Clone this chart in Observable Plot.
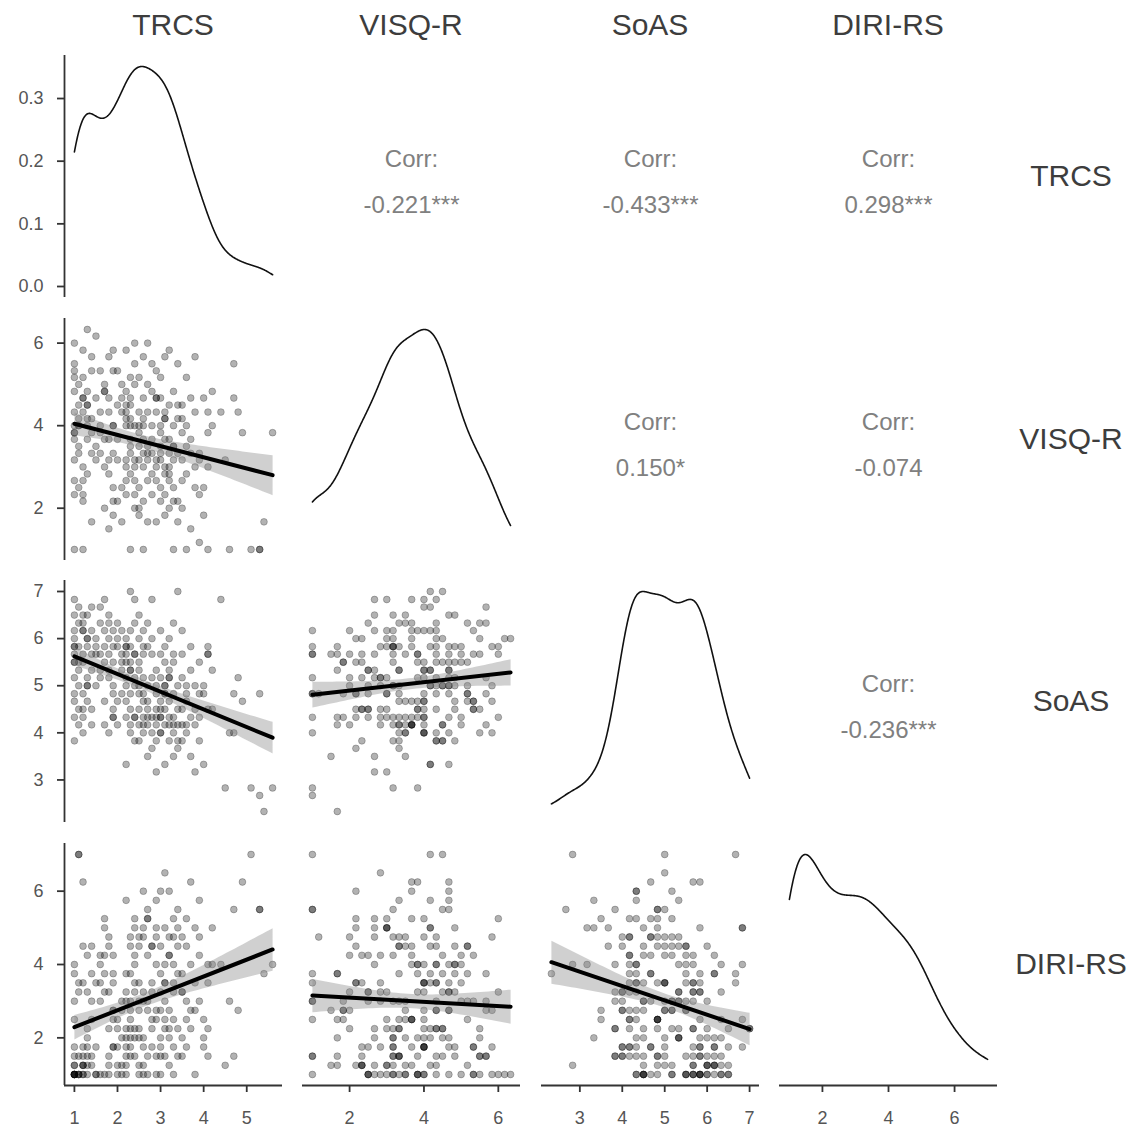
<!DOCTYPE html>
<html>
<head>
<meta charset="utf-8">
<script src="https://cdn.jsdelivr.net/npm/d3@7"></script>
<script src="https://cdn.jsdelivr.net/npm/@observablehq/plot@0.6"></script>
<style>
  body { margin: 0; background: #fff; }
  #chart { position: relative; width: 1134px; height: 1129px; font-family: "Liberation Sans", Arial, Helvetica, sans-serif; }
  #chart svg { position: absolute; }
  .strip { position: absolute; font-size: 30px; line-height: 34px; color: #3d3d3d; text-align: center; white-space: nowrap; }
</style>
</head>
<body>
<div id="chart"></div>
<script>
// Scale names, in matrix order
const names = ["TRCS", "VISQ-R", "SoAS", "DIRI-RS"];

// Respondent scores (one entry per respondent, same order in every array)
const trcs = [
  1.0,1.0,1.0,1.0,1.0,1.0,1.0,1.0,1.0,1.0,1.0,1.0, 1.1,1.1,1.1,1.1,1.1,1.1,
  1.2,1.2,1.2,1.2,1.2,1.2,1.2, 1.3,1.3,1.3,1.3,1.3,1.3, 1.4,1.4,1.4,1.4,1.4,1.4,
  1.1,1.2,1.0,1.5,1.5,1.5,1.5, 1.2,1.6,1.6,1.6,1.2,1.6,1.6, 1.3,1.7,1.7,1.7,1.3,1.7,1.7,1.7,
  1.8,1.8,1.8,1.8,1.8,1.8,1.8, 1.9,1.9,1.9,1.9,1.9,1.9,1.9,1.9,
  1.0,2.0,2.0,3.1,2.0,2.0,2.0,3.2, 1.1,2.1,3.0,2.1,2.1,3.3,2.1,2.1,
  2.2,2.2,2.2,2.2,2.2,2.2,2.2,2.2,2.2, 2.3,2.3,2.3,2.3,2.3,2.3,2.3,2.3,2.3, 2.4,2.4,2.4,2.4,2.4,2.4,2.4,2.4,2.4,
  2.5,2.5,2.5,2.5,2.5,2.5,2.5,2.5,2.5, 2.6,2.6,2.6,2.6,2.6,2.6,2.6,2.6,2.6, 2.2,2.7,2.7,2.7,2.7,2.7,2.7,2.7,2.7,
  2.3,2.8,2.8,2.8,2.8,2.8,2.8,2.8, 2.9,2.9,2.9,2.9,2.9,2.9,2.9,2.9,
  3.0,3.0,3.0,3.0,3.0,3.0,3.0,3.0, 3.1,3.1,3.1,3.1,3.1,3.1,3.1,3.1, 3.2,3.2,3.2,3.2,3.2,3.2,3.2,
  3.3,3.3,3.3,3.3,3.3,3.3,3.3, 3.4,3.4,3.4,3.4,3.4,3.4,
  3.5,3.5,3.5,3.5,3.5,3.5, 3.6,3.6,3.6,3.6,3.6, 3.7,3.7,3.7,3.7, 3.8,3.8,3.8,3.8, 3.9,3.9,3.9,3.9,
  4.0,4.0,4.0,4.1,4.1,4.1,4.1,4.2,4.2,4.4,4.5,4.6,4.7,4.7,4.8,4.9,5.1,5.3,5.3,5.4,5.6
];
const visq = [
  4.33,3.67,5.33,2.67,4.83,3.17,6.0,1.0,4.0,3.83,5.5,2.33, 4.5,3.5,5.0,3.33,4.17,2.5,
  4.67,4.67,5.83,3.0,4.33,2.17,5.17, 4.0,6.33,3.67,4.83,2.83,4.5, 3.83,5.33,1.67,4.17,5.67,3.33,
  4.0,2.67,5.17,3.5,4.67,3.17,6.17, 1.0,4.33,3.83,5.33,2.33,4.0,3.33, 4.5,3.67,5.0,2.0,4.17,3.0,4.83,4.83,
  5.67,2.83,4.33,3.67,1.5,4.67,3.17, 4.0,5.33,2.17,4.0,5.83,1.83,3.33,2.5,
  3.83,4.5,2.17,4.17,3.17,5.33,3.67,2.83, 4.0,5.0,3.33,1.67,4.33,3.5,4.67,2.5,
  3.17,4.83,3.0,5.83,4.17,2.67,4.0,4.33,2.33, 4.5,3.67,5.17,3.33,4.0,1.0,3.5,4.67,2.83, 3.17,5.5,2.0,4.0,3.0,5.0,2.67,6.0,2.33,
  3.83,2.5,4.33,3.17,5.17,1.83,4.0,3.5,2.0, 4.67,1.0,3.33,4.17,3.67,5.67,2.17,4.0,3.0, 4.5,2.67,3.33,4.33,3.17,5.0,1.67,3.5,6.0,
  4.17,2.83,3.67,4.83,3.33,2.33,4.0,5.5, 3.0,4.33,2.67,4.67,5.33,1.67,3.17,4.67,
  3.5,4.67,2.5,3.83,2.17,4.0,3.17,5.17, 2.83,4.33,1.83,3.67,5.67,3.0,4.17,2.33, 3.0,4.5,2.67,3.33,5.83,2.0,3.67,
  1.0,4.0,2.17,3.5,4.83,3.17,2.5, 4.17,4.5,5.5,1.67,3.33,2.17,
  3.83,2.67,4.5,3.17,2.0,4.17, 1.0,3.5,5.17,2.83,4.0, 3.33,4.67,1.5,3.67, 2.5,4.33,3.0,5.67, 1.17,3.17,2.33,3.33,
  4.67,2.5,1.83,3.83,4.33,3.0,1.0,4.83,4.0,4.33,3.17,1.0,4.67,5.5,4.33,3.83,1.0,1.0,1.0,1.67,3.83
];
const soas = [
  5.83,6.17,4.67,6.5,3.83,5.5,5.83,5.17,6.83,4.33,5.67,6.0, 5.0,6.33,5.83,4.17,6.67,5.33,
  5.67,6.5,4.0,6.17,5.5,4.83,6.33, 5.17,6.0,4.67,6.5,5.83,5.0, 6.17,4.5,5.67,5.33,6.67,4.17,
  5.5,6.17,4.83,5.67,5.0,5.83,6.0, 4.33,6.33,5.17,5.67,4.5,6.67,5.33, 6.0,4.17,5.5,6.17,5.0,6.83,5.83,4.67,
  6.33,5.17,4.0,6.0,5.67,5.33,6.5, 4.83,6.17,5.5,4.33,5.0,4.33,5.83,4.5,
  5.5,4.17,6.0,5.0,5.83,4.67,6.33,5.17, 4.5,5.67,4.0,5.33,6.17,4.17,5.5,4.83,
  5.83,5.0,4.33,5.83,3.33,5.67,4.67,6.0,5.17, 7.0,4.17,5.5,4.83,5.33,6.17,4.0,5.83,4.5, 5.0,6.33,5.67,4.33,5.17,4.33,6.83,5.67,3.83,
  4.5,5.33,3.83,6.0,4.83,5.5,4.17,6.5,5.0, 4.0,5.67,4.67,5.83,4.17,5.17,4.33,6.17,4.83, 5.5,3.5,6.33,4.5,5.0,4.17,5.83,4.67,4.33,
  5.33,4.33,6.83,5.17,3.67,5.67,4.0,6.0, 4.83,3.83,3.17,5.0,4.5,4.33,4.17,5.33,
  4.33,5.17,4.33,5.67,4.5,4.0,6.17,4.67, 5.0,4.83,5.5,4.17,4.83,5.83,3.33,4.5, 6.0,4.17,5.33,3.83,4.67,5.17,4.33,
  5.67,4.0,4.83,3.5,5.5,4.33,6.33, 7.0,3.83,4.5,4.17,5.0,3.67,
  4.5,5.17,3.83,5.67,4.17,6.17, 4.83,4.0,5.0,4.17,4.67, 5.33,4.33,3.5,5.83, 4.5,5.0,3.17,4.17, 4.83,3.83,5.5,4.33,
  3.33,5.0,4.83,5.67,5.67,4.5,5.83,4.5,5.33,6.83,2.83,4.0,4.83,4.0,5.17,4.67,2.83,4.83,2.67,2.33,2.83
];
const diri = [
  1.0,1.25,1.0,1.0,4.0,1.5,1.0,3.0,1.75,3.75,1.0,1.25, 7.0,1.0,3.5,1.5,7.0,3.25,
  6.25,1.0,1.75,1.0,4.5,3.5,1.25, 2.25,1.0,4.25,1.75,3.25,2.0, 1.5,3.0,1.25,4.5,3.75,2.5,
  1.0,1.25,2.5,1.0,3.5,1.75,1.0, 1.5,4.0,1.0,4.25,1.25,3.5,3.0, 1.5,5.25,1.0,4.25,1.25,5.0,3.25,3.75,
  1.5,1.0,4.75,4.5,1.25,3.25,2.25, 2.5,1.75,3.5,1.75,2.75,2.75,3.75,4.25,
  1.0,2.25,1.25,3.5,1.0,1.75,2.5,4.25, 1.0,3.0,1.5,2.0,1.25,4.75,2.75,1.0,
  2.0,1.5,3.25,1.0,5.75,2.25,1.75,3.0,1.25, 2.25,2.5,4.5,1.5,4.75,3.75,2.75,1.75,3.0, 4.25,2.0,2.25,3.5,5.25,4.0,5.0,3.25,1.5,
  1.0,3.0,2.25,2.0,4.5,2.75,3.5,1.25,4.75, 3.25,1.0,4.75,5.0,1.75,3.0,6.0,2.0,1.25, 3.75,5.25,1.0,2.75,5.5,4.25,1.5,3.0,5.25,
  2.0,3.5,2.5,4.5,4.5,1.75,3.25,2.25, 5.0,1.5,4.0,2.75,1.0,2.5,4.75,5.75,
  2.0,6.0,1.0,3.25,4.5,2.75,1.75,3.75, 6.5,2.25,3.0,4.0,1.5,2.5,5.0,3.5, 1.25,4.25,2.0,2.25,4.75,2.75,6.0,
  3.5,1.75,5.25,2.5,4.0,1.0,3.25, 2.25,5.5,1.5,3.75,4.5,5.0,
  2.0,4.75,3.25,1.5,3.25,3.75, 2.5,4.5,3.0,1.75,5.25, 2.25,4.0,2.75,6.25, 1.0,3.5,5.0,2.75, 4.75,3.0,4.25,5.75,
  2.0,1.75,2.5,4.0,3.5,2.25,1.5,5.0,4.0,4.0,1.25,3.0,5.5,1.5,2.75,6.25,7.0,5.5,5.5,3.75,4.0
];

// Pearson correlations shown in the upper triangle (row, column, r, significance stars)
const corrRows = [0, 0, 0, 1, 1, 2];
const corrCols = [1, 2, 3, 2, 3, 3];
const corrValues = [-0.221, -0.433, 0.298, 0.150, -0.074, -0.236];
const corrStars = ["***", "***", "***", "*", "", "***"];

// Axis tick values for each scale, and for the density axis of the first panel
const axisTicks = [[1, 2, 3, 4, 5], [2, 4, 6], [3, 4, 5, 6, 7], [2, 4, 6]];
const densityTicks = [0, 0.1, 0.2, 0.3];

const vars = [trcs, visq, soas, diri];
if (new Set(vars.map(v => v.length)).size !== 1) throw new Error("score arrays differ in length: " + vars.map(v => v.length));

// Panel grid geometry
const lefts = [64, 302, 541, 779];
const tops = [55, 318, 580, 843];
const W = 218, H = 242;
const FONT = '"Liberation Sans", Arial, Helvetica, sans-serif';
const AXIS = "#333";
const TICKTEXT = "#555";

const chart = document.getElementById("chart");
const idx = d3.range(trcs.length);

// ggplot-style 5% expansion around the data range
function expand([a, b], k = 0.05) { const w = b - a; return [a - k * w, b + k * w]; }
const domains = vars.map(v => expand(d3.extent(v)));

// Gaussian kernel density with R's bw.nrd0 bandwidth, evaluated over the data range
function kde(v, n = 512) {
  const s = v.slice().sort(d3.ascending);
  const iqr = d3.quantile(s, 0.75) - d3.quantile(s, 0.25);
  const lo = Math.min(d3.deviation(s), iqr / 1.34);
  const bw = 0.9 * lo * Math.pow(s.length, -0.2);
  const [a, b] = d3.extent(s);
  const c = 1 / (s.length * bw * Math.sqrt(2 * Math.PI));
  return d3.range(n).map(i => {
    const x = a + (b - a) * i / (n - 1);
    let sum = 0;
    for (const xi of s) { const z = (x - xi) / bw; sum += Math.exp(-0.5 * z * z); }
    return {x, y: sum * c};
  });
}

function place(svg, left, top) {
  svg.style.left = left + "px";
  svg.style.top = top + "px";
  chart.append(svg);
}

const intFormat = d => String(d);

for (let r = 0; r < 4; ++r) {
  for (let c = 0; c < 4; ++c) {
    const ml = c === 0 ? 64 : 4, mr = 4, mt = 4, mb = r === 3 ? 44 : 4;
    const marks = [];
    const opts = {
      width: W + ml + mr, height: H + mt + mb,
      marginLeft: ml, marginRight: mr, marginTop: mt, marginBottom: mb,
      style: {background: "transparent", overflow: "visible", fontFamily: FONT}
    };
    let yDomain = null, xDomain = domains[c], yTicks = null, yFormat = intFormat;

    if (r === c) {
      // diagonal: density of one scale
      const dens = kde(vars[c]);
      const m = d3.max(dens, d => d.y);
      yDomain = [-0.05 * m, 1.05 * m];
      yTicks = densityTicks; yFormat = d3.format(".1f");
      marks.push(Plot.line(dens, {x: "x", y: "y", stroke: "#111", strokeWidth: 1.6}));
    } else if (r > c) {
      // lower triangle: scatter with linear fit and 95% band
      yDomain = domains[r];
      yTicks = axisTicks[r];
      const X = vars[c], Y = vars[r];
      marks.push(Plot.dot(idx, {x: i => X[i], y: i => Y[i], r: 3.4, fill: "#000", fillOpacity: 0.3, stroke: "#000", strokeOpacity: 0.3, strokeWidth: 0.8}));
      marks.push(Plot.linearRegressionY(idx, {x: i => X[i], y: i => Y[i], stroke: "#000", strokeWidth: 4, fill: "#8a8a8a", fillOpacity: 0.4, ci: 0.95}));
    } else {
      // upper triangle: correlation text
      const k = corrRows.findIndex((rr, j) => rr === r && corrCols[j] === c);
      const label = [corrValues[k].toFixed(3) + corrStars[k]];
      marks.push(Plot.text(["Corr:"], {text: d => d, frameAnchor: "middle", dy: -17.5, fontSize: 24, fill: "#808080"}));
      marks.push(Plot.text(label, {text: d => d, frameAnchor: "middle", dy: 29, fontSize: 24, fill: "#808080"}));
      place(Plot.plot({...opts, marks}), lefts[c] - ml, tops[r] - mt);
      continue;
    }

    if (c === 0) {
      marks.push(Plot.ruleX([xDomain[0]], {stroke: AXIS, strokeWidth: 1.8}));
      marks.push(Plot.axisY({ticks: yTicks, tickFormat: yFormat, tickSize: 7, tickPadding: 14, fontSize: 18, fill: TICKTEXT, stroke: AXIS, strokeWidth: 1.8, label: null}));
    }
    if (r === 3) {
      marks.push(Plot.ruleY([yDomain[0]], {stroke: AXIS, strokeWidth: 1.8}));
      marks.push(Plot.axisX({ticks: axisTicks[c], tickFormat: intFormat, tickSize: 7, tickPadding: 19, fontSize: 18, fill: TICKTEXT, stroke: AXIS, strokeWidth: 1.8, label: null}));
    }

    const svg = Plot.plot({
      ...opts,
      x: {domain: xDomain, axis: null},
      y: {domain: yDomain, axis: null},
      marks
    });
    place(svg, lefts[c] - ml, tops[r] - mt);
  }
}

// Column strip labels (top) and row strip labels (right)
names.forEach((n, i) => {
  const top = document.createElement("div");
  top.className = "strip";
  top.textContent = n;
  top.style.left = lefts[i] + "px";
  top.style.width = W + "px";
  top.style.top = "8px";
  chart.append(top);

  const right = document.createElement("div");
  right.className = "strip";
  right.textContent = n;
  right.style.left = "1006px";
  right.style.width = "130px";
  right.style.top = (tops[i] + H / 2 - 17) + "px";
  chart.append(right);
});
</script>
</body>
</html>
